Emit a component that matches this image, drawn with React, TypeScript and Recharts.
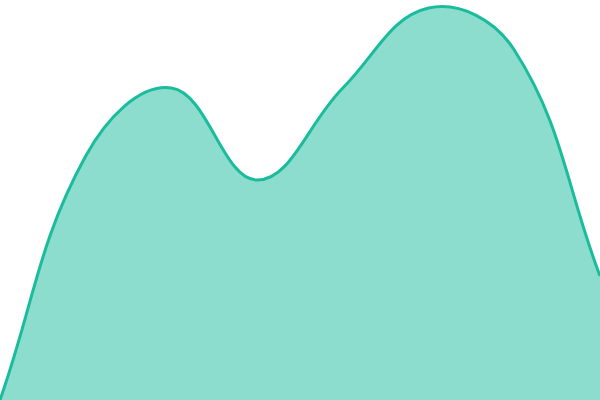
import { AreaChart, Area, XAxis, YAxis } from 'recharts';

const labels = ['A', 'B', 'C', 'D', 'E', 'F', 'G', 'H'];
const values = [0, 61, 78, 55, 78, 98, 87.5, 31];

const data = labels.map((label, i) => ({ label, value: values[i] }));

const TENSION = 0.4;

// spline like a "tension" curve: control points scaled by distance to neighbours
function tensionCurve(context: any) {
  let pts: number[][] = [];
  let line = NaN;

  function draw() {
    const n = pts.length;
    if (n === 0) return;
    if (line) context.lineTo(pts[0][0], pts[0][1]);
    else context.moveTo(pts[0][0], pts[0][1]);
    if (n === 1) return;

    const cps = pts.map((cur, i) => {
      const prev = pts[i - 1] || cur;
      const next = pts[i + 1] || cur;
      const d01 = Math.hypot(cur[0] - prev[0], cur[1] - prev[1]);
      const d12 = Math.hypot(next[0] - cur[0], next[1] - cur[1]);
      let s01 = d01 / (d01 + d12);
      let s12 = d12 / (d01 + d12);
      if (isNaN(s01)) s01 = 0;
      if (isNaN(s12)) s12 = 0;
      const fa = TENSION * s01;
      const fb = TENSION * s12;
      return {
        px: cur[0] - fa * (next[0] - prev[0]),
        py: cur[1] - fa * (next[1] - prev[1]),
        nx: cur[0] + fb * (next[0] - prev[0]),
        ny: cur[1] + fb * (next[1] - prev[1]),
      };
    });

    for (let i = 1; i < n; i++) {
      context.bezierCurveTo(cps[i - 1].nx, cps[i - 1].ny, cps[i].px, cps[i].py, pts[i][0], pts[i][1]);
    }
  }

  return {
    areaStart() { line = 0; },
    areaEnd() { line = NaN; },
    lineStart() { pts = []; },
    lineEnd() {
      draw();
      if (line || (line !== 0 && pts.length === 1)) context.closePath();
      line = 1 - line;
    },
    point(x: number, y: number) { pts.push([+x, +y]); },
  };
}

export default function App() {
  return (
    <div style={styles.wrap}>
      <AreaChart width={600} height={400} data={data} margin={{ top: 0, right: 0, bottom: 0, left: 0 }}>
        <XAxis dataKey="label" hide />
        <YAxis domain={[0, 100]} hide />
        <Area
          type={tensionCurve as any}
          dataKey="value"
          stroke="#1abc9c"
          strokeWidth={3}
          fill="#1abc9c"
          fillOpacity={0.5}
          dot={false}
          activeDot={false}
          isAnimationActive={false}
        />
      </AreaChart>
    </div>
  );
}

const styles = {
  wrap: {
    position: 'absolute' as const,
    top: 0,
    left: 0,
    width: '600px',
    height: '400px',
    overflow: 'hidden' as const,
  },
};
